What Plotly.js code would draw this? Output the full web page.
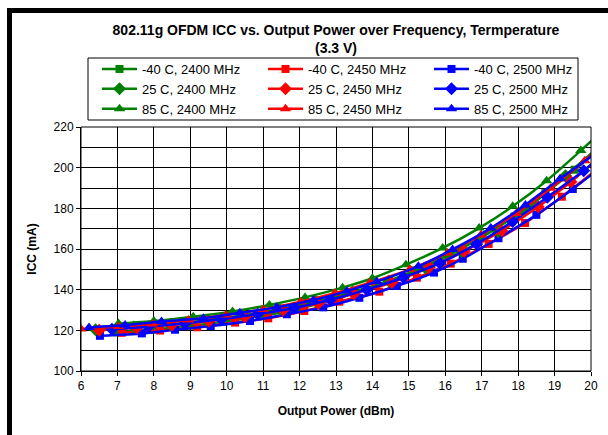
<!DOCTYPE html>
<html>
<head>
<meta charset="utf-8">
<script src="https://cdn.plot.ly/plotly-3.0.1.min.js"></script>
<style>
html,body{margin:0;padding:0;background:#fff;overflow:hidden;}
#wrap{position:relative;width:608px;height:435px;}
#chart{position:absolute;left:0;top:0;width:608px;height:435px;}
#frame{position:absolute;left:7px;top:8px;width:700px;height:600px;border-left:5px solid #000;border-top:5px solid #000;pointer-events:none;}
</style>
</head>
<body>
<div id="wrap"><div id="chart"></div><div id="frame"></div></div>
<script>
// ---- data ----
const xG40 = [7.0, 8.0, 9.02, 10.02, 11.05, 12.05, 13.05, 14.1, 15.17, 16.13, 17.02, 17.9, 18.75, 19.55, 20.3];
const yG40 = [119.0, 120.4, 122.3, 124.5, 127.4, 131.0, 135.8, 142.0, 149.5, 157.5, 166.0, 176.0, 187.5, 199.0, 210.5];
const xR40 = [7.12, 8.17, 9.19, 10.23, 11.14, 12.13, 13.09, 14.19, 15.22, 16.15, 17.19, 18.19, 19.2, 20.3];
const yR40 = [118.8, 119.9, 121.5, 123.8, 125.9, 129.5, 134.1, 139.0, 145.9, 152.8, 162.5, 172.8, 185.7, 201.0];
const xB40 = [6.52, 7.67, 8.58, 9.56, 10.64, 11.65, 12.65, 13.64, 14.67, 15.69, 16.48, 17.46, 18.5, 19.5, 20.4];
const yB40 = [117.3, 118.5, 120.3, 122.1, 124.6, 127.9, 131.3, 136.0, 141.8, 148.4, 155.2, 165.3, 176.8, 189.5, 202.0];
const xG25 = [6.4, 7.45, 8.45, 9.45, 10.45, 11.45, 12.45, 13.45, 14.45, 15.45, 16.45, 17.45, 18.4, 19.3, 20.2];
const yG25 = [120.3, 121.6, 123.0, 125.0, 127.4, 130.4, 134.2, 138.8, 144.3, 150.8, 158.8, 168.5, 182.0, 196.0, 210.0];
const xR25 = [6.5, 7.53, 8.49, 9.51, 10.5, 11.55, 12.52, 13.49, 14.53, 15.56, 16.52, 17.55, 18.55, 19.45, 20.3];
const yR25 = [120.0, 121.3, 122.6, 124.6, 126.7, 130.0, 133.3, 138.0, 143.5, 151.0, 158.9, 169.0, 180.8, 193.1, 206.0];
const xB25 = [6.85, 7.85, 8.85, 9.85, 10.85, 11.85, 12.85, 13.85, 14.85, 15.85, 16.86, 17.85, 18.8, 19.8, 20.3];
const yB25 = [120.5, 121.8, 123.4, 125.5, 128.0, 131.0, 135.0, 140.0, 146.0, 153.0, 162.5, 173.5, 185.5, 198.5, 206.0];
const xG85 = [7.03, 8.0, 9.08, 10.16, 11.17, 12.15, 13.18, 14.0, 14.92, 15.93, 16.93, 17.85, 18.78, 19.72, 20.3];
const yG85 = [123.3, 124.6, 126.7, 129.3, 132.5, 136.2, 141.0, 145.6, 152.3, 160.5, 170.3, 181.0, 193.6, 208.4, 218.0];
const xR85 = [6.0, 7.03, 7.97, 8.95, 9.98, 11.0, 12.03, 12.97, 13.93, 15.03, 16.06, 16.98, 17.95, 18.89, 19.83, 20.3];
const yR85 = [120.7, 121.9, 123.1, 125.1, 127.5, 130.3, 134.1, 138.2, 143.4, 150.0, 158.0, 166.9, 177.5, 189.9, 203.4, 211.0];
const xB85 = [6.22, 7.21, 8.21, 9.36, 10.36, 11.37, 12.38, 13.3, 14.12, 15.26, 16.2, 17.25, 18.2, 19.15, 20.2];
const yB85 = [121.4, 122.6, 124.4, 125.9, 128.6, 131.3, 134.9, 139.3, 144.0, 151.5, 159.8, 170.3, 181.7, 194.5, 208.0];

const names = ['-40 C, 2400 MHz','-40 C, 2450 MHz','-40 C, 2500 MHz',
               '25 C, 2400 MHz','25 C, 2450 MHz','25 C, 2500 MHz',
               '85 C, 2400 MHz','85 C, 2450 MHz','85 C, 2500 MHz'];
const xTickVals = [6,7,8,9,10,11,12,13,14,15,16,17,18,19,20];
const yTickVals = [100,120,140,160,180,200,220];

const GREEN = '#008000', RED = '#FF0000', BLUE = '#0000FF';
const FONT = 'Liberation Sans, Arial, sans-serif';

const seriesX = [xG40, xR40, xB40, xG25, xR25, xB25, xG85, xR85, xB85];
const seriesY = [yG40, yR40, yB40, yG25, yR25, yB25, yG85, yR85, yB85];
const colors = [GREEN, RED, BLUE, GREEN, RED, BLUE, GREEN, RED, BLUE];
const symbols = ['square','square','square','diamond','diamond','diamond','triangle-up','triangle-up','triangle-up'];
const sizes = [8,8,8,10,10,10,10,10,10];
const legendIds = ['legend','legend2','legend3','legend','legend2','legend3','legend','legend2','legend3'];

const traces = seriesX.map((xs, i) => ({
  type: 'scatter', mode: 'lines+markers', name: names[i],
  x: xs, y: seriesY[i],
  line: {color: colors[i], width: 2.5, shape: 'spline', smoothing: 0.6},
  marker: {color: colors[i], symbol: symbols[i], size: sizes[i]},
  legend: legendIds[i]
}));

const L = 81, R = 591, T = 127, B = 371;
const px = v => (v - L) / (R - L);
const py = v => (B - v) / (B - T);

const legendCommon = {
  orientation: 'v', bgcolor: 'rgba(0,0,0,0)', borderwidth: 0,
  font: {family: FONT, size: 13, color: '#000'},
  xanchor: 'left', yanchor: 'top', tracegroupgap: 0, itemwidth: 35
};

const layout = {
  width: 608, height: 435,
  margin: {l: L, r: 608 - R, t: T, b: 435 - B},
  paper_bgcolor: '#fff', plot_bgcolor: '#fff',
  font: {family: FONT, size: 12, color: '#000'},
  title: {
    text: '802.11g OFDM ICC vs. Output Power over Frequency, Termperature<br>(3.3 V)',
    font: {family: FONT, size: 14, color: '#000', weight: 'bold'},
    xref: 'paper', x: 0.5, xanchor: 'center',
    yref: 'container', y: 1 - 35/435, yanchor: 'top'
  },
  xaxis: {
    range: [6, 20], tickvals: xTickVals, ticktext: xTickVals.map(String),
    showgrid: true, gridcolor: '#000', gridwidth: 1,
    showline: true, linecolor: '#000', linewidth: 1,
    ticks: 'outside', ticklen: 4, tickcolor: '#000',
    zeroline: false, tickfont: {family: FONT, size: 12, color: '#000'},
    title: {text: 'Output Power (dBm)', font: {family: FONT, size: 12, weight: 'bold', color: '#000'}, standoff: 14}
  },
  yaxis: {
    range: [100, 220], tickvals: yTickVals, ticktext: yTickVals.map(String),
    showgrid: true, gridcolor: '#000', gridwidth: 1,
    minor: {dtick: 10, showgrid: true, gridcolor: '#000', gridwidth: 1, ticks: ''},
    showline: true, linecolor: '#000', linewidth: 1,
    ticks: 'outside', ticklen: 4, tickcolor: '#000',
    zeroline: false, tickfont: {family: FONT, size: 12, color: '#000'},
    title: {text: 'ICC (mA)', font: {family: FONT, size: 12, weight: 'bold', color: '#000'}, standoff: 14}
  },
  legend: Object.assign({}, legendCommon, {x: px(97), y: py(54)}),
  legend2: Object.assign({}, legendCommon, {x: px(263), y: py(54)}),
  legend3: Object.assign({}, legendCommon, {x: px(429), y: py(54)}),
  shapes: [
    {type: 'rect', xref: 'paper', yref: 'paper', x0: px(88), x1: px(578), y0: py(120), y1: py(58),
     line: {color: '#000', width: 1}, fillcolor: 'rgba(0,0,0,0)', layer: 'above'},
    {type: 'rect', xref: 'paper', yref: 'paper', x0: 0, x1: 1, y0: 0, y1: 1,
     line: {color: '#000', width: 1}, fillcolor: 'rgba(0,0,0,0)', layer: 'above'}
  ],
  showlegend: true
};

Plotly.newPlot('chart', traces, layout, {displayModeBar: false, staticPlot: true});
</script>
</body>
</html>
